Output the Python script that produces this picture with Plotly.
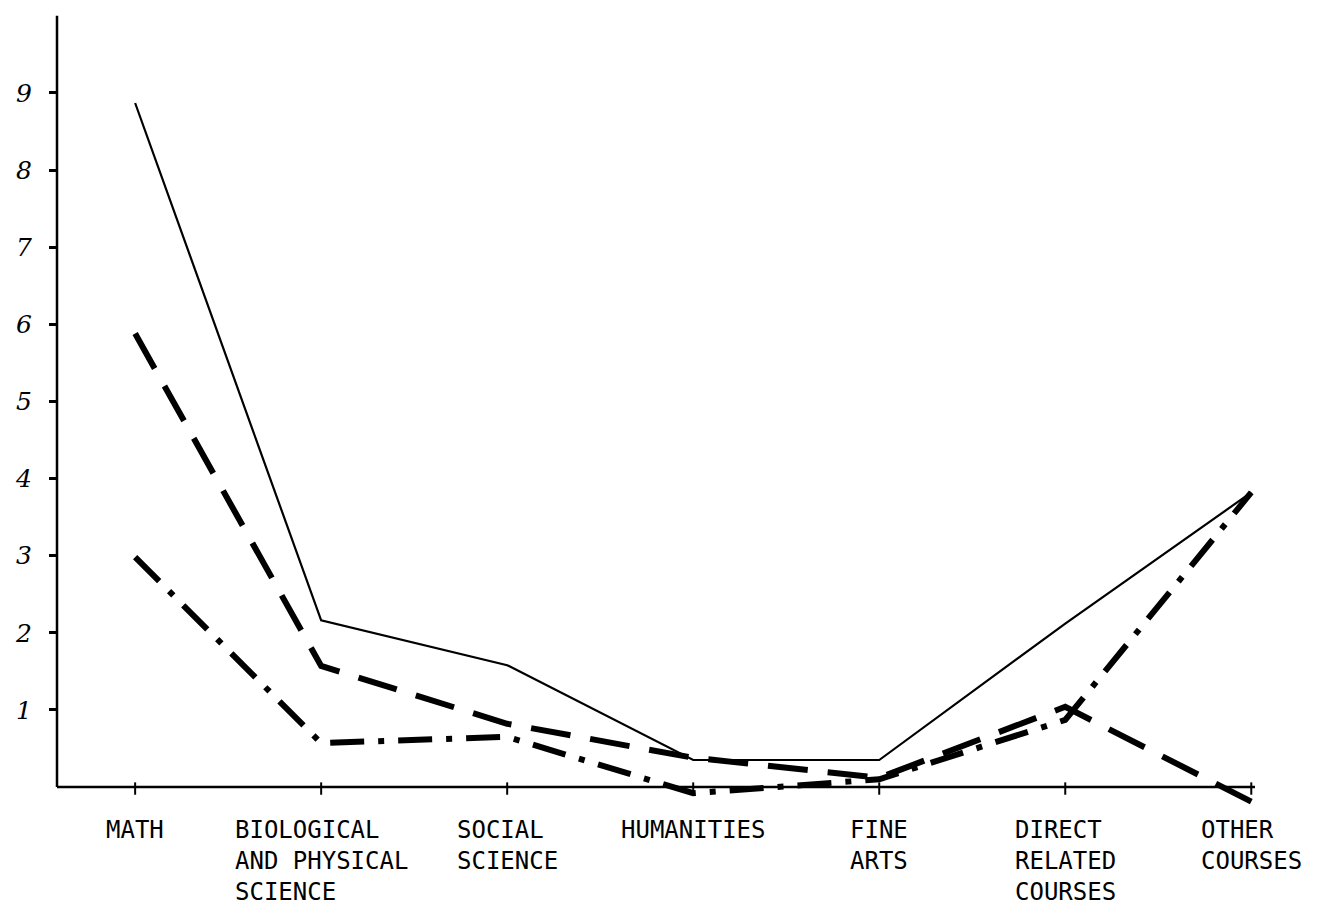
import plotly.graph_objects as go

categories = ["MATH", "BIOLOGICAL AND PHYSICAL SCIENCE", "SOCIAL SCIENCE", "HUMANITIES",
              "FINE ARTS", "DIRECT RELATED COURSES", "OTHER COURSES"]
tick_labels = ["MATH", "BIOLOGICAL<br>AND PHYSICAL<br>SCIENCE", "SOCIAL<br>SCIENCE", "HUMANITIES",
               "FINE<br>ARTS", "DIRECT<br>RELATED<br>COURSES", "OTHER<br>COURSES"]
series_solid = [8.87, 2.16, 1.58, 0.35, 0.35, 2.12, 3.82]
series_dashed = [5.88, 1.57, 0.82, 0.38, 0.12, 1.04, -0.19]
series_dashdot = [2.98, 0.57, 0.65, -0.08, 0.10, 0.87, 3.82]
y_ticks = [1, 2, 3, 4, 5, 6, 7, 8, 9]

fig = go.Figure()
fig.add_trace(go.Scatter(x=categories, y=series_solid, mode="lines",
                         line=dict(color="black", width=2.2), showlegend=False))
fig.add_trace(go.Scatter(x=categories, y=series_dashed, mode="lines",
                         line=dict(color="black", width=6, dash="40px,20px"), showlegend=False))
fig.add_trace(go.Scatter(x=categories, y=series_dashdot, mode="lines",
                         line=dict(color="black", width=6, dash="34px,14px,6px,14px"), showlegend=False))

# axis lines
fig.add_shape(type="line", xref="paper", yref="y", x0=0, x1=0, y0=0, y1=10.0,
              line=dict(color="black", width=2.5))
fig.add_shape(type="line", xref="paper", yref="y", x0=0, x1=1, y0=0, y1=0,
              line=dict(color="black", width=2.5))
for c in categories:
    fig.add_shape(type="line", xref="x", yref="y", x0=c, x1=c, y0=-0.1, y1=0.06,
                  line=dict(color="black", width=2))

for c, lab in zip(categories, tick_labels):
    fig.add_annotation(x=c, xref="x", y=0, yref="paper", yanchor="top", xanchor="center",
                       text=lab, align="left", showarrow=False,
                       font=dict(family="DejaVu Sans Mono", size=24, color="black"))

fig.update_xaxes(range=[-0.42, 6.02], showticklabels=False, showgrid=False,
                 zeroline=False, showline=False, ticks="")
fig.update_yaxes(range=[-0.35, 10.05], tickvals=y_ticks, ticktext=[str(v) for v in y_ticks],
                 ticks="outside", ticklen=7, tickwidth=2.5, tickcolor="black",
                 ticklabelstandoff=12,
                 showgrid=False, zeroline=False, showline=False,
                 tickfont=dict(family="DejaVu Serif", size=25, color="black", style="italic"))

fig.update_layout(width=1331, height=913, plot_bgcolor="white", paper_bgcolor="white",
                  margin=dict(l=49, r=84, t=4, b=107))

fig.write_html("out.html")
